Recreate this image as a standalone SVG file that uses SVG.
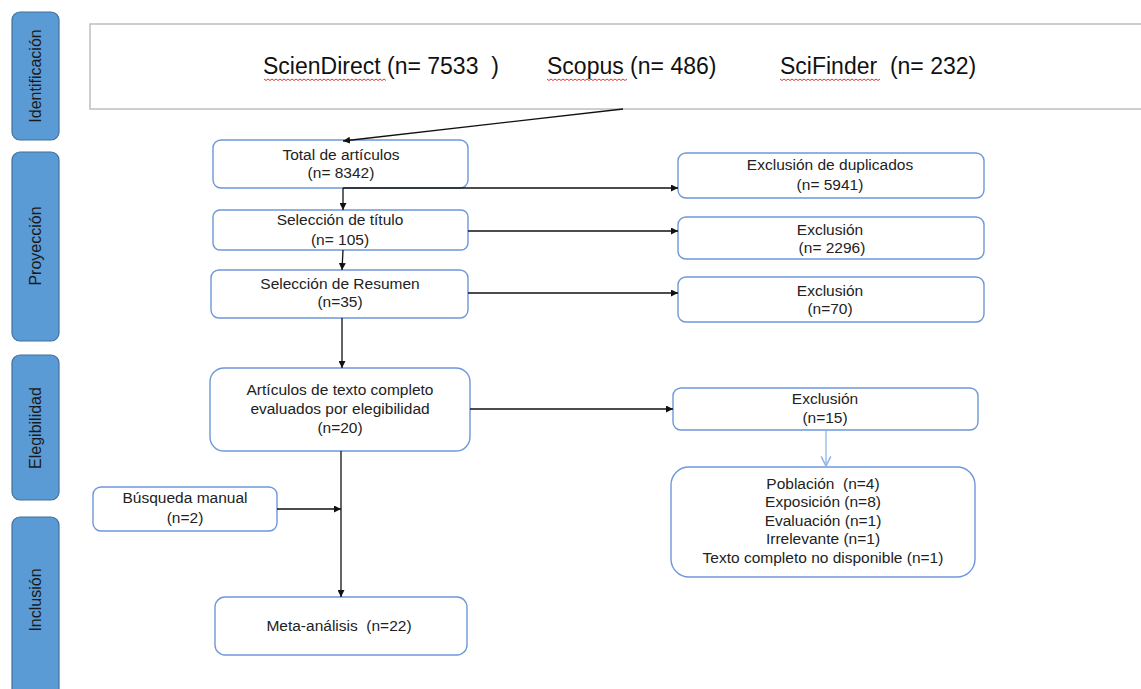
<svg xmlns="http://www.w3.org/2000/svg" width="1141" height="689" viewBox="0 0 1141 689">
<style>
text{white-space:pre}
.phase{fill:#5B9BD5;stroke:#41719C;stroke-width:1.2}
.ptxt{font-family:"Liberation Sans",Arial,sans-serif;font-size:16px;fill:#1a1a1a;text-anchor:middle}
.box{fill:#fff;stroke:#6E97DA;stroke-width:1.4}
.t{font-family:"Liberation Sans",Arial,sans-serif;font-size:15.5px;fill:#222;text-anchor:middle}
.big{font-family:"Liberation Sans",Arial,sans-serif;font-size:23px;fill:#111}
.c{stroke:#111;stroke-width:1.3;fill:none}
.sq{stroke:#e02020;stroke-width:0.9;fill:none}
</style>
<defs>
<marker id="ah" viewBox="0 0 10 10" refX="10" refY="5" markerWidth="7" markerHeight="7" markerUnits="userSpaceOnUse" orient="auto">
<path d="M0,0 L10,5 L0,10 z" fill="#111"/>
</marker>
<marker id="ahb" viewBox="0 0 10 10" refX="9" refY="5" markerWidth="12" markerHeight="12" markerUnits="userSpaceOnUse" orient="auto">
<path d="M1,1 L9,5 L1,9" fill="none" stroke="#8DB6E8" stroke-width="1.3"/>
</marker>
</defs>
<rect width="1141" height="689" fill="#fff"/>

<g id="phase-identificacion">
<rect class="phase" x="12" y="12" width="47" height="128" rx="8"/>
<text class="ptxt" transform="translate(41,76) rotate(-90)">Identificación</text>
</g>
<g id="phase-proyeccion">
<rect class="phase" x="12" y="152" width="47" height="189" rx="8"/>
<text class="ptxt" transform="translate(41,246) rotate(-90)">Proyección</text>
</g>
<g id="phase-elegibilidad">
<rect class="phase" x="12" y="355" width="47" height="145" rx="8"/>
<text class="ptxt" transform="translate(41,428) rotate(-90)">Elegibilidad</text>
</g>
<g id="phase-inclusion">
<rect class="phase" x="12" y="517" width="47" height="190" rx="8"/>
<text class="ptxt" transform="translate(41,600) rotate(-90)">Inclusión</text>
</g>

<g id="sources">
<rect x="90" y="24" width="1070" height="85" fill="#fff" stroke="#BFBFBF" stroke-width="1.5"/>
<text class="big" x="263" y="74" xml:space="preserve">ScienDirect (n= 7533  )</text>
<text class="big" x="547" y="74">Scopus (n= 486)</text>
<text class="big" x="780" y="74" xml:space="preserve">SciFinder  (n= 232)</text>
<path class="sq" d="M264,79 l2,1.5 l2,-1.5 l2,1.5 l2,-1.5 l2,1.5 l2,-1.5 l2,1.5 l2,-1.5 l2,1.5 l2,-1.5 l2,1.5 l2,-1.5 l2,1.5 l2,-1.5 l2,1.5 l2,-1.5 l2,1.5 l2,-1.5 l2,1.5 l2,-1.5 l2,1.5 l2,-1.5 l2,1.5 l2,-1.5 l2,1.5 l2,-1.5 l2,1.5 l2,-1.5 l2,1.5 l2,-1.5 l2,1.5 l2,-1.5 l2,1.5 l2,-1.5 l2,1.5 l2,-1.5 l2,1.5 l2,-1.5 l2,1.5 l2,-1.5 l2,1.5 l2,-1.5 l2,1.5 l2,-1.5 l2,1.5 l2,-1.5 l2,1.5 l2,-1.5 l2,1.5 l2,-1.5 l2,1.5 l2,-1.5 l2,1.5 l2,-1.5 l2,1.5 l2,-1.5 l2,1.5 l2,-1.5 l2,1.5 l2,-1.5 l2,1.5"/>
<path class="sq" d="M547,79 l2,1.5 l2,-1.5 l2,1.5 l2,-1.5 l2,1.5 l2,-1.5 l2,1.5 l2,-1.5 l2,1.5 l2,-1.5 l2,1.5 l2,-1.5 l2,1.5 l2,-1.5 l2,1.5 l2,-1.5 l2,1.5 l2,-1.5 l2,1.5 l2,-1.5 l2,1.5 l2,-1.5 l2,1.5 l2,-1.5 l2,1.5 l2,-1.5 l2,1.5 l2,-1.5 l2,1.5 l2,-1.5 l2,1.5 l2,-1.5 l2,1.5 l2,-1.5 l2,1.5 l2,-1.5 l2,1.5 l2,-1.5 l2,1.5 l2,-1.5"/>
<path class="sq" d="M780,79 l2,1.5 l2,-1.5 l2,1.5 l2,-1.5 l2,1.5 l2,-1.5 l2,1.5 l2,-1.5 l2,1.5 l2,-1.5 l2,1.5 l2,-1.5 l2,1.5 l2,-1.5 l2,1.5 l2,-1.5 l2,1.5 l2,-1.5 l2,1.5 l2,-1.5 l2,1.5 l2,-1.5 l2,1.5 l2,-1.5 l2,1.5 l2,-1.5 l2,1.5 l2,-1.5 l2,1.5 l2,-1.5 l2,1.5 l2,-1.5 l2,1.5 l2,-1.5 l2,1.5 l2,-1.5 l2,1.5 l2,-1.5 l2,1.5 l2,-1.5 l2,1.5 l2,-1.5 l2,1.5 l2,-1.5 l2,1.5 l2,-1.5 l2,1.5 l2,-1.5 l2,1.5 l2,-1.5"/>
</g>

<g id="total">
<rect class="box" x="213" y="140" width="255" height="48" rx="8"/>
<text class="t" x="341" y="160">Total de artículos</text>
<text class="t" x="341" y="178">(n= 8342)</text>
</g>
<g id="titulo">
<rect class="box" x="213" y="210" width="255" height="40" rx="7"/>
<text class="t" x="340" y="225">Selección de título</text>
<text class="t" x="340" y="245">(n= 105)</text>
</g>
<g id="resumen">
<rect class="box" x="211" y="270" width="257" height="48" rx="8"/>
<text class="t" x="340" y="289">Selección de Resumen</text>
<text class="t" x="340" y="307">(n=35)</text>
</g>
<g id="completo">
<rect class="box" x="210" y="368" width="260" height="83" rx="14"/>
<text class="t" x="340" y="395">Artículos de texto completo</text>
<text class="t" x="340" y="414">evaluados por elegibilidad</text>
<text class="t" x="340" y="433">(n=20)</text>
</g>
<g id="manual">
<rect class="box" x="93" y="487" width="184" height="44" rx="8"/>
<text class="t" x="185" y="503">Búsqueda manual</text>
<text class="t" x="185" y="523">(n=2)</text>
</g>
<g id="meta">
<rect class="box" x="215" y="597" width="252" height="58" rx="10"/>
<text class="t" x="339" y="631" xml:space="preserve">Meta-análisis  (n=22)</text>
</g>
<g id="duplicados">
<rect class="box" x="678" y="153" width="306" height="45" rx="8"/>
<text class="t" x="830" y="170">Exclusión de duplicados</text>
<text class="t" x="830" y="190">(n= 5941)</text>
</g>
<g id="excl-titulo">
<rect class="box" x="678" y="217" width="306" height="42" rx="8"/>
<text class="t" x="830" y="235">Exclusión</text>
<text class="t" x="832" y="253">(n= 2296)</text>
</g>
<g id="excl-resumen">
<rect class="box" x="678" y="277" width="306" height="45" rx="8"/>
<text class="t" x="830" y="296">Exclusión</text>
<text class="t" x="830" y="314">(n=70)</text>
</g>
<g id="excl-completo">
<rect class="box" x="673" y="388" width="305" height="42" rx="8"/>
<text class="t" x="825" y="404">Exclusión</text>
<text class="t" x="825" y="423">(n=15)</text>
</g>
<g id="motivos">
<rect class="box" x="671" y="467" width="304" height="110" rx="18"/>
<text class="t" x="823" y="489" xml:space="preserve">Población  (n=4)</text>
<text class="t" x="823" y="507">Exposición (n=8)</text>
<text class="t" x="823" y="526">Evaluación (n=1)</text>
<text class="t" x="823" y="544">Irrelevante (n=1)</text>
<text class="t" x="823" y="563">Texto completo no disponible (n=1)</text>
</g>

<g id="connectors">
<line class="c" x1="623" y1="109" x2="343" y2="141" marker-end="url(#ah)"/>
<line class="c" x1="343" y1="188" x2="343" y2="210" marker-end="url(#ah)"/>
<line class="c" x1="343" y1="188" x2="678" y2="188" marker-end="url(#ah)"/>
<line class="c" x1="468" y1="231" x2="678" y2="231" marker-end="url(#ah)"/>
<line class="c" x1="343" y1="250" x2="342" y2="270" marker-end="url(#ah)"/>
<line class="c" x1="468" y1="293" x2="678" y2="293" marker-end="url(#ah)"/>
<line class="c" x1="342" y1="318" x2="342" y2="368" marker-end="url(#ah)"/>
<line class="c" x1="470" y1="409" x2="673" y2="409" marker-end="url(#ah)"/>
<line class="c" x1="341" y1="451" x2="341" y2="597" marker-end="url(#ah)"/>
<line class="c" x1="277" y1="509" x2="341" y2="509" marker-end="url(#ah)"/>
<line x1="826" y1="430" x2="826" y2="466" stroke="#8DB6E8" stroke-width="1.3" marker-end="url(#ahb)"/>
</g>
</svg>
